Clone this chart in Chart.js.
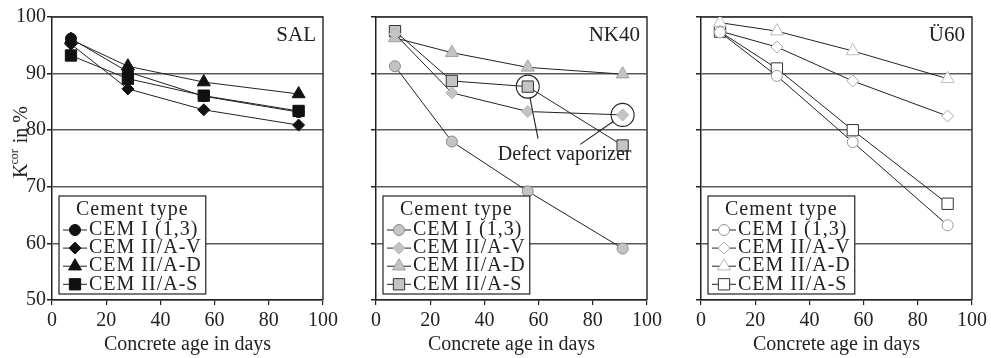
<!DOCTYPE html>
<html>
<head>
<meta charset="utf-8">
<script src="https://cdn.jsdelivr.net/npm/chart.js@4/dist/chart.umd.min.js"></script>
<style>
html, body { margin: 0; padding: 0; background: #fff; }
#wrap { position: relative; width: 991px; height: 358px; overflow: hidden; }
canvas { position: absolute; top: 0; }
</style>
</head>
<body>
<div id="wrap">
<canvas id="chart_sal" width="342" height="358" style="left:0px"></canvas>
<canvas id="chart_nk40" width="342" height="358" style="left:324px"></canvas>
<canvas id="chart_u60" width="342" height="358" style="left:649px"></canvas>
</div>
<script>
// concrete age (days) at which the measurements were taken
var days = [7, 28, 56, 91];
var xTicks = [0, 20, 40, 60, 80, 100];
var yTicks = [50, 60, 70, 80, 90, 100];
var cementTypes = ['CEM I (1,3)', 'CEM II/A-V', 'CEM II/A-D', 'CEM II/A-S'];
var legendTitle = 'Cement type';
var panelNames = ['SAL', 'NK40', 'Ü60'];
var xTitle = 'Concrete age in days';
var defectText = 'Defect vaporizer';

// K_cor in % per cement type
var salCemI     = [96.2, 90.3, 86.0, 83.2];
var salCemIIAV  = [95.2, 87.3, 83.6, 80.9];
var salCemIIAD  = [96.0, 91.3, 88.5, 86.4];
var salCemIIAS  = [93.2, 89.1, 86.1, 83.4];

var nk40CemI    = [91.3, 78.0, 69.2, 59.1];
var nk40CemIIAV = [97.0, 86.6, 83.3, 82.7];
var nk40CemIIAD = [96.3, 93.7, 91.1, 89.9];
var nk40CemIIAS = [97.5, 88.7, 87.7, 77.3];

var u60CemI     = [97.3, 89.6, 77.9, 63.2];
var u60CemIIAV  = [97.5, 94.7, 88.7, 82.5];
var u60CemIIAD  = [99.0, 97.5, 94.0, 89.1];
var u60CemIIAS  = [97.4, 90.9, 80.0, 67.0];

// the two NK40 points marked as "defect vaporizer" (series index, point index)
var defectPoints = [[3, 2], [1, 3]];

var pointStyles = ['circle', 'rectRot', 'triangle', 'rect'];
var pointRadii = [5.5, 6, 7.5, 8];
var ink = '#222';
var fontFamily = '"Liberation Serif", "Times New Roman", serif';

Chart.defaults.font.family = fontFamily;
Chart.defaults.color = ink;

function drawMarker(ctx, style, radius, x, y) {
    if (Chart.helpers && Chart.helpers.drawPoint) {
        Chart.helpers.drawPoint(ctx, {pointStyle: style, radius: radius, rotation: 0, borderWidth: 1}, x, y);
        return;
    }
    ctx.beginPath();
    ctx.arc(x, y, radius, 0, Math.PI * 2);
    ctx.fill();
    ctx.stroke();
}

var framePlugin = {
    id: 'frame',
    beforeDatasetsDraw: function(chart) {
        var a = chart.chartArea, ctx = chart.ctx;
        ctx.save();
        ctx.strokeStyle = '#333';
        ctx.lineWidth = 1.5;
        ctx.beginPath();
        ctx.moveTo(a.left, a.top);
        ctx.lineTo(a.right, a.top);
        ctx.lineTo(a.right, a.bottom);
        ctx.stroke();
        ctx.restore();
    }
};

var panelNamePlugin = {
    id: 'panelName',
    afterDraw: function(chart, args, opts) {
        var a = chart.chartArea, ctx = chart.ctx;
        ctx.save();
        ctx.font = '21px ' + fontFamily;
        ctx.fillStyle = ink;
        ctx.textAlign = 'right';
        ctx.textBaseline = 'middle';
        ctx.fillText(opts.text, a.right - 7, a.top + 18);
        ctx.restore();
    }
};

var boxLegendPlugin = {
    id: 'boxLegend',
    afterDraw: function(chart) {
        var a = chart.chartArea, ctx = chart.ctx;
        var sets = chart.data.datasets;
        var spacing = 1;
        ctx.save();
        ctx.font = '20px ' + fontFamily;
        var maxW = 0;
        sets.forEach(function(ds) {
            maxW = Math.max(maxW, ctx.measureText(ds.label).width + spacing * ds.label.length);
        });
        if ('letterSpacing' in ctx) { ctx.letterSpacing = spacing + 'px'; }
        var x0 = a.left + 7, y0 = a.bottom - 104, y1 = a.bottom - 6;
        var w = 30 + maxW + 4;
        ctx.fillStyle = '#fff';
        ctx.fillRect(x0, y0, w, y1 - y0);
        ctx.strokeStyle = ink;
        ctx.lineWidth = 1.2;
        ctx.strokeRect(x0, y0, w, y1 - y0);
        ctx.fillStyle = ink;
        ctx.textBaseline = 'middle';
        ctx.textAlign = 'left';
        ctx.fillText(legendTitle, x0 + 17, y0 + 14);
        sets.forEach(function(ds, i) {
            var cy = y0 + 34 + 18.1 * i;
            ctx.strokeStyle = ink;
            ctx.lineWidth = 1;
            ctx.beginPath();
            ctx.moveTo(x0 + 4, cy);
            ctx.lineTo(x0 + 28, cy);
            ctx.stroke();
            ctx.fillStyle = ds.pointBackgroundColor;
            ctx.strokeStyle = ds.pointBorderColor;
            drawMarker(ctx, ds.pointStyle, ds.pointRadius, x0 + 16, cy);
            ctx.fillStyle = ink;
            ctx.fillText(ds.label, x0 + 30, cy);
        });
        ctx.restore();
    }
};

var yTitlePlugin = {
    id: 'yTitle',
    afterDraw: function(chart) {
        var ctx = chart.ctx;
        ctx.save();
        ctx.translate(27, 178);
        ctx.rotate(-Math.PI / 2);
        ctx.fillStyle = ink;
        ctx.textBaseline = 'alphabetic';
        ctx.textAlign = 'left';
        ctx.font = '20px ' + fontFamily;
        ctx.fillText('K', 0, 0);
        var x = ctx.measureText('K').width;
        ctx.font = '12px ' + fontFamily;
        ctx.fillText('cor', x - 1, -9);
        x += ctx.measureText('cor').width;
        ctx.font = '20px ' + fontFamily;
        ctx.fillText(' in %', x, 0);
        ctx.restore();
    }
};

var defectPlugin = {
    id: 'defect',
    afterDatasetsDraw: function(chart, args, opts) {
        var xs = chart.scales.x, ys = chart.scales.y, ctx = chart.ctx;
        var r = 11.5;
        ctx.save();
        ctx.strokeStyle = ink;
        ctx.lineWidth = 1.1;
        defectPoints.forEach(function(p, i) {
            var el = chart.getDatasetMeta(p[0]).data[p[1]];
            var end = opts.lineEnds[i];
            var ex = xs.getPixelForValue(end[0]), ey = ys.getPixelForValue(end[1]);
            var dx = ex - el.x, dy = ey - el.y, len = Math.sqrt(dx * dx + dy * dy);
            ctx.beginPath();
            ctx.arc(el.x, el.y, r, 0, Math.PI * 2);
            ctx.stroke();
            ctx.beginPath();
            ctx.moveTo(el.x + r * dx / len, el.y + r * dy / len);
            ctx.lineTo(ex, ey);
            ctx.stroke();
        });
        ctx.font = '20px ' + fontFamily;
        ctx.fillStyle = ink;
        ctx.textAlign = 'center';
        ctx.textBaseline = 'middle';
        ctx.fillText(defectText, xs.getPixelForValue(opts.textAt[0]), ys.getPixelForValue(opts.textAt[1]));
        ctx.restore();
    }
};

function buildDatasets(series, fills, borders) {
    return series.map(function(values, i) {
        return {
            label: cementTypes[i],
            data: values.map(function(v, j) { return {x: days[j], y: v}; }),
            pointStyle: pointStyles[i],
            pointRadius: pointRadii[i],
            pointBackgroundColor: fills[i],
            pointBorderColor: borders[i],
            pointBorderWidth: 1,
            borderColor: ink,
            borderWidth: 1,
            fill: false,
            tension: 0
        };
    });
}

function renderChart(id, name, series, fills, borders, showYLabels, extraPlugins, extraOpts) {
    var pluginOpts = {
        legend: {display: false},
        tooltip: {enabled: false},
        panelName: {text: name}
    };
    for (var k in extraOpts) { pluginOpts[k] = extraOpts[k]; }
    return new Chart(document.getElementById(id).getContext('2d'), {
        type: 'line',
        data: {datasets: buildDatasets(series, fills, borders)},
        options: {
            responsive: false,
            animation: false,
            events: [],
            layout: {padding: {top: 17, right: 17, left: 0, bottom: 0}},
            scales: {
                x: {
                    type: 'linear',
                    min: xTicks[0],
                    max: xTicks[xTicks.length - 1],
                    ticks: {stepSize: xTicks[1] - xTicks[0], padding: 4, maxRotation: 0, color: ink, font: {size: 20}},
                    grid: {drawOnChartArea: false, tickLength: 5, tickColor: ink, lineWidth: 1.2},
                    border: {color: ink, width: 1.5},
                    title: {display: true, text: xTitle, color: ink, font: {size: 20}, padding: {top: 0, bottom: 1}},
                    afterFit: function(scale) { scale.height = 58; }
                },
                y: {
                    type: 'linear',
                    min: yTicks[0],
                    max: yTicks[yTicks.length - 1],
                    ticks: {
                        stepSize: yTicks[1] - yTicks[0],
                        padding: 1,
                        color: ink,
                        font: {size: 20},
                        callback: function(v) { return showYLabels ? v : ''; }
                    },
                    grid: {color: '#5a5a5a', lineWidth: 1.5, tickLength: 5, tickColor: ink},
                    border: {color: ink, width: 1.5},
                    afterFit: function(scale) { scale.width = 52; }
                }
            },
            plugins: pluginOpts
        },
        plugins: [framePlugin, panelNamePlugin, boxLegendPlugin].concat(extraPlugins)
    });
}

renderChart('chart_sal', panelNames[0],
    [salCemI, salCemIIAV, salCemIIAD, salCemIIAS],
    ['#111', '#111', '#111', '#111'],
    ['#111', '#111', '#111', '#111'],
    true, [yTitlePlugin], {});

renderChart('chart_nk40', panelNames[1],
    [nk40CemI, nk40CemIIAV, nk40CemIIAD, nk40CemIIAS],
    ['#c4c4c4', '#c4c4c4', '#c4c4c4', '#c4c4c4'],
    ['#8a8a8a', '#b4b4b4', '#a0a0a0', '#333'],
    false, [defectPlugin],
    {defect: {textAt: [69.6, 75.7], lineEnds: [[59.8, 78.5], [75.4, 77.5]]}});

renderChart('chart_u60', panelNames[2],
    [u60CemI, u60CemIIAV, u60CemIIAD, u60CemIIAS],
    ['#fff', '#fff', '#fff', '#fff'],
    ['#999', '#aaa', '#bbb', '#333'],
    false, [], {});
</script>
</body>
</html>
